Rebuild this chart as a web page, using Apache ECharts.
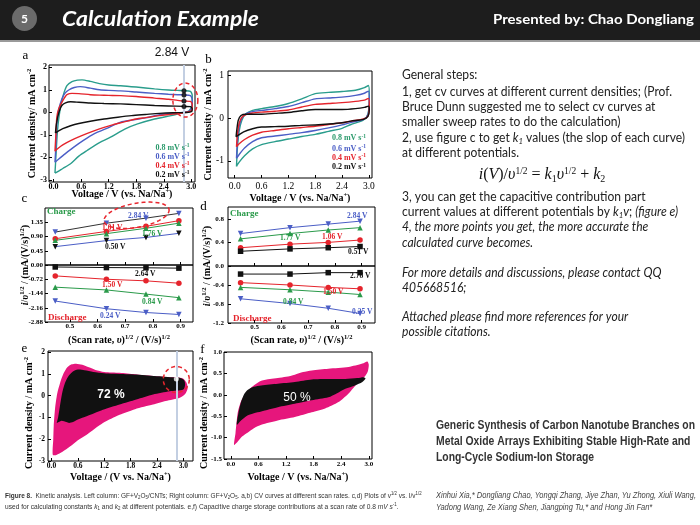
<!DOCTYPE html>
<html>
<head>
<meta charset="utf-8">
<script src="https://cdn.jsdelivr.net/npm/echarts@6/dist/echarts.min.js"></script>
<style>
html,body{margin:0;padding:0;background:#fff;}
#chart{width:700px;height:525px;}
</style>
</head>
<body>
<div id="chart"></div>
<script>
// ======================= DATA =======================
// Panel a: CV loops, GF+V2O5/CNTs  [voltage (V), current density (mA cm-2)]
const cvA_08 = [[0.03,-2.7],[0.05,-2.0],[0.07,-1.26],[0.1,-0.5],[0.15,0.22],[0.21,0.75],[0.29,1.18],[0.4,1.36],[0.52,1.43],[0.62,1.44],[0.8,1.37],[1.0,1.27],[1.2,1.21],[1.46,1.18],[1.8,1.12],[2.2,1.04],[2.5,0.99],[2.7,0.97],[2.84,0.96],[2.98,0.93],[3.02,0.75],[3.01,0.3],[2.95,0.05],[2.8,-0.03],[2.56,-0.15],[2.2,-0.3],[1.83,-0.52],[1.55,-0.75],[1.24,-1.11],[1.0,-1.35],[0.73,-1.7],[0.55,-1.95],[0.37,-2.29],[0.2,-2.5],[0.08,-2.65],[0.03,-2.7]];
const cvA_06 = [[0.03,-2.22],[0.05,-1.5],[0.07,-0.52],[0.11,0.1],[0.18,0.59],[0.25,0.85],[0.33,0.99],[0.45,1.1],[0.58,1.14],[0.8,1.07],[1.0,1.0],[1.2,0.97],[1.46,0.95],[1.8,0.9],[2.2,0.84],[2.5,0.8],[2.7,0.78],[2.84,0.77],[2.98,0.74],[3.02,0.55],[3.01,0.2],[2.93,0.03],[2.7,-0.03],[2.34,-0.1],[2.0,-0.25],[1.7,-0.35],[1.46,-0.44],[1.2,-0.68],[0.88,-0.96],[0.65,-1.25],[0.44,-1.55],[0.25,-1.85],[0.1,-2.1],[0.03,-2.22]];
const cvA_04 = [[0.03,-1.73],[0.05,-1.0],[0.07,-0.22],[0.11,0.15],[0.18,0.44],[0.24,0.65],[0.29,0.78],[0.4,0.84],[0.55,0.83],[0.8,0.78],[1.0,0.76],[1.2,0.75],[1.46,0.74],[1.8,0.7],[2.2,0.63],[2.5,0.58],[2.7,0.53],[2.84,0.5],[2.98,0.48],[3.02,0.35],[3.01,0.1],[2.9,0.0],[2.6,-0.08],[2.3,-0.15],[2.0,-0.24],[1.8,-0.3],[1.5,-0.45],[1.3,-0.55],[1.1,-0.67],[0.85,-0.85],[0.6,-1.05],[0.37,-1.26],[0.2,-1.45],[0.1,-1.6],[0.03,-1.73]];
const cvA_02 = [[0.04,-0.92],[0.06,-0.55],[0.09,-0.22],[0.13,0.08],[0.18,0.3],[0.26,0.42],[0.37,0.47],[0.5,0.45],[0.8,0.41],[1.1,0.39],[1.46,0.37],[1.8,0.34],[2.2,0.3],[2.5,0.28],[2.84,0.26],[2.98,0.25],[3.02,0.16],[3.01,0.04],[2.9,-0.01],[2.6,-0.02],[2.3,-0.05],[2.0,-0.1],[1.7,-0.15],[1.4,-0.22],[1.1,-0.3],[0.8,-0.4],[0.55,-0.5],[0.37,-0.6],[0.2,-0.73],[0.1,-0.84],[0.04,-0.92]];
const markV = 2.84;
const dotsA = [0.96, 0.77, 0.5, 0.26];

// Panel b: CV loops, GF+V2O5
const cvB_08 = [[0.04,-1.13],[0.06,-0.7],[0.1,-0.3],[0.16,-0.05],[0.25,0.1],[0.4,0.18],[0.6,0.22],[0.9,0.27],[1.2,0.34],[1.5,0.45],[1.8,0.57],[2.1,0.6],[2.4,0.62],[2.7,0.65],[2.9,0.71],[2.99,0.76],[3.01,0.5],[2.98,0.1],[2.88,-0.04],[2.6,-0.15],[2.4,-0.24],[2.1,-0.31],[1.8,-0.38],[1.5,-0.43],[1.2,-0.49],[0.9,-0.55],[0.6,-0.62],[0.4,-0.72],[0.22,-0.88],[0.1,-1.03],[0.04,-1.13]];
const cvB_06 = [[0.04,-0.94],[0.06,-0.55],[0.1,-0.2],[0.16,0.0],[0.25,0.1],[0.4,0.15],[0.6,0.18],[0.9,0.22],[1.2,0.27],[1.5,0.36],[1.8,0.45],[2.1,0.47],[2.4,0.49],[2.7,0.53],[2.9,0.58],[2.99,0.63],[3.01,0.4],[2.98,0.08],[2.88,-0.03],[2.6,-0.1],[2.4,-0.16],[2.1,-0.23],[1.8,-0.29],[1.5,-0.34],[1.2,-0.38],[0.9,-0.42],[0.6,-0.46],[0.4,-0.55],[0.22,-0.7],[0.1,-0.85],[0.04,-0.94]];
const cvB_04 = [[0.04,-0.67],[0.06,-0.38],[0.1,-0.12],[0.16,0.02],[0.25,0.08],[0.4,0.12],[0.6,0.14],[0.9,0.16],[1.2,0.19],[1.5,0.26],[1.8,0.32],[2.1,0.34],[2.4,0.36],[2.7,0.39],[2.9,0.42],[2.99,0.46],[3.01,0.3],[2.98,0.05],[2.88,-0.02],[2.6,-0.07],[2.4,-0.11],[2.1,-0.15],[1.8,-0.19],[1.5,-0.22],[1.2,-0.25],[0.9,-0.29],[0.6,-0.33],[0.4,-0.4],[0.22,-0.5],[0.1,-0.6],[0.04,-0.67]];
const cvB_02 = [[0.03,-0.44],[0.05,-0.25],[0.08,-0.05],[0.14,0.06],[0.25,0.09],[0.4,0.09],[0.6,0.09],[0.9,0.11],[1.2,0.13],[1.5,0.17],[1.8,0.2],[2.1,0.2],[2.4,0.2],[2.7,0.22],[2.9,0.25],[2.99,0.28],[3.01,0.2],[2.98,0.04],[2.88,-0.03],[2.6,-0.07],[2.4,-0.11],[2.1,-0.14],[1.8,-0.16],[1.5,-0.17],[1.2,-0.19],[0.9,-0.2],[0.6,-0.21],[0.4,-0.25],[0.2,-0.32],[0.08,-0.4],[0.03,-0.44]];
const rateLabels = ['0.8', '0.6', '0.4', '0.2'];

// Panels c,d: i/v^1/2 vs v^1/2
const sqrtRate = [0.447, 0.632, 0.775, 0.894];
const c_284 = [1.04, 1.32, 1.48, 1.63];
const c_101 = [0.83, 1.06, 1.22, 1.40];
const c_176 = [0.78, 0.99, 1.16, 1.32];
const c_050 = [0.58, 0.77, 0.87, 1.00];
const c_264 = [-0.10, -0.13, -0.14, -0.16];
const c_150 = [-0.55, -0.72, -0.80, -0.92];
const c_084 = [-1.12, -1.26, -1.47, -1.65];
const c_024 = [-1.82, -2.21, -2.40, -2.50];
const d_284 = [0.55, 0.65, 0.71, 0.76];
const d_177 = [0.46, 0.55, 0.61, 0.65];
const d_106 = [0.31, 0.37, 0.40, 0.44];
const d_051 = [0.25, 0.29, 0.31, 0.33];
const d_278 = [-0.17, -0.17, -0.14, -0.14];
const d_150 = [-0.35, -0.40, -0.45, -0.48];
const d_084 = [-0.45, -0.50, -0.55, -0.60];
const d_025 = [-0.69, -0.79, -0.89, -1.00];

// Panels e,f: total CV (outer) and capacitive part (inner)
const eOuter = [[0.03,-2.72],[0.04,-2.0],[0.05,-1.4],[0.08,-0.6],[0.13,0.1],[0.19,0.55],[0.27,1.0],[0.36,1.3],[0.46,1.44],[0.56,1.47],[0.7,1.42],[0.85,1.3],[1.0,1.18],[1.2,1.09],[1.55,1.05],[1.9,0.98],[2.31,0.9],[2.6,0.86],[2.84,0.84],[3.0,0.78],[3.07,0.6],[3.1,0.35],[3.05,0.1],[2.92,-0.1],[2.6,-0.25],[2.31,-0.41],[1.9,-0.62],[1.55,-0.88],[1.17,-1.26],[0.8,-1.8],[0.6,-2.05],[0.42,-2.34],[0.25,-2.58],[0.11,-2.72]];
const eInner = [[0.12,-1.25],[0.15,-1.0],[0.19,-0.5],[0.24,0.1],[0.3,0.55],[0.38,0.88],[0.48,1.1],[0.6,1.2],[0.75,1.17],[0.95,1.09],[1.2,1.03],[1.4,1.0],[1.7,0.98],[1.93,0.97],[2.2,0.93],[2.46,0.89],[2.7,0.85],[2.92,0.82],[3.02,0.7],[3.04,0.5],[3.0,0.28],[2.69,0.2],[2.31,0.05],[1.93,-0.18],[1.55,-0.41],[1.17,-0.65],[0.8,-0.95],[0.6,-1.1],[0.49,-1.21],[0.4,-1.25],[0.34,-1.21],[0.23,-1.15],[0.15,-1.22]];
const eDot = [2.84, 0.77];
const fOuter = [[0.07,-1.17],[0.1,-0.9],[0.15,-0.41],[0.22,-0.15],[0.29,-0.02],[0.4,0.13],[0.51,0.23],[0.66,0.33],[0.85,0.37],[1.02,0.39],[1.2,0.42],[1.39,0.47],[1.57,0.53],[1.76,0.57],[2.12,0.61],[2.56,0.65],[2.86,0.73],[2.97,0.78],[3.0,0.7],[2.98,0.55],[2.93,0.45],[2.82,0.33],[2.71,0.22],[2.55,0.02],[2.34,-0.17],[2.05,-0.32],[1.76,-0.41],[1.39,-0.52],[1.02,-0.6],[0.66,-0.7],[0.5,-0.78],[0.37,-0.88],[0.25,-0.97],[0.15,-1.09]];
const fInner = [[0.13,-0.7],[0.16,-0.45],[0.22,-0.17],[0.29,0.02],[0.37,0.12],[0.5,0.19],[0.66,0.22],[1.02,0.26],[1.39,0.3],[1.76,0.36],[2.12,0.37],[2.49,0.37],[2.75,0.39],[2.89,0.41],[2.93,0.38],[2.86,0.3],[2.7,0.22],[2.49,0.14],[2.3,0.03],[2.12,-0.06],[1.76,-0.13],[1.39,-0.21],[1.02,-0.29],[0.66,-0.39],[0.5,-0.43],[0.37,-0.48],[0.22,-0.6]];

// Tick values
const TICK_V = [0, 0.6, 1.2, 1.8, 2.4, 3.0];
const TICK_A_Y = [-3, -2, -1, 0, 1, 2];
const TICK_B_Y = [-1, 0, 1];
const TICK_S = [0.5, 0.6, 0.7, 0.8, 0.9];
const TICK_C_TOP = [0, 0.45, 0.9, 1.35];
const TICK_C_BOT = [-2.88, -2.16, -1.44, -0.72];
const TICK_D_TOP = [0, 0.4, 0.8];
const TICK_D_BOT = [-1.2, -0.8, -0.4];
const TICK_E_Y = [-3, -2, -1, 0, 1, 2];
const TICK_F_Y = [-1.5, -1, -0.5, 0, 0.5, 1];

// ======================= STYLE =======================
const SERIF = '"Liberation Serif","Times New Roman",serif';
const SANS = '"Liberation Sans",Arial,sans-serif';
const TEAL = '#2a9d8c', BLUE = '#4b5ec6', RED = '#e5242c', BLACK = '#111111', GREEN = '#2a9a4a', PINK = '#e6167c', LEG_TEAL = '#2c9a6c';

const AXR = {
  b: { fontFamily: SERIF, fontWeight: 'bold', fontSize: 10, color: '#000', lineHeight: 12 },
  bi: { fontFamily: SERIF, fontWeight: 'bold', fontStyle: 'italic', fontSize: 10, color: '#000', lineHeight: 12 },
  s: { fontFamily: SERIF, fontWeight: 'bold', fontSize: 6.5, color: '#000', lineHeight: 7, verticalAlign: 'top' }
};
const nameV = '{b|Voltage / V (vs. Na/Na}{s|+}{b|)}';
const nameVe = '{b|Voltage / (V vs. Na/Na}{s|+}{b|)}';
const nameJa = '{b|Current density/ mA cm}{s|-2}';
const nameJ = '{b|Current density / mA cm}{s|-2}';
const nameScan = '{b|(Scan rate, }{bi|υ}{b|)}{s|1/2}{b| / (V/s)}{s|1/2}';
const nameIv = '{bi|i}{b|/}{bi|υ}{s|1/2}{b| / (mA/(V/s)}{s|1/2}{b|)}';

function fmt(v, d) { if (Math.abs(v) < 1e-9) v = 0; return v.toFixed(d); }
function mkAxis(gi, min, max, ticks, dec, o) {
  o = o || {};
  const lab = Object.assign({ show: !o.hideLabel, customValues: ticks, formatter: function (v) { return fmt(v, dec); },
    fontFamily: SERIF, fontWeight: 'bold', fontSize: 8, color: '#000', margin: 2 }, o.label || {});
  const ax = { type: 'value', gridIndex: gi, min: min, max: max,
    axisLine: { show: false, onZero: false }, splitLine: { show: false },
    axisTick: { show: true, inside: true, length: 3, customValues: ticks, lineStyle: { color: '#000', width: 1 } },
    axisLabel: lab };
  if (o.name) {
    ax.name = o.name; ax.nameLocation = 'middle'; ax.nameGap = o.nameGap; ax.nameMoveOverlap = false;
    ax.nameTextStyle = { fontFamily: SERIF, fontWeight: 'bold', fontSize: 10, color: '#000', rich: AXR };
  }
  return ax;
}
function gridBox(l, t, w, h) {
  return { left: l, top: t, width: w, height: h, show: true, borderColor: '#000', borderWidth: 1, backgroundColor: 'transparent', containLabel: false, outerBoundsMode: 'none' };
}
function cvLine(gi, data, color) {
  return { type: 'line', xAxisIndex: gi, yAxisIndex: gi, data: data, symbol: 'none', smooth: 0.25, lineStyle: { color: color, width: 1.4 }, z: 3, silent: true };
}
function pts(gi, vals, sym, rot, mColor, lColor) {
  return { type: 'line', xAxisIndex: gi, yAxisIndex: gi, data: sqrtRate.map(function (x, i) { return [x, vals[i]]; }),
    symbol: sym, symbolRotate: rot, symbolSize: 5.5, showSymbol: true, itemStyle: { color: mColor },
    lineStyle: { color: lColor, width: 1 }, z: 3, silent: true };
}
function poly(gi, ptsArr, fill, z) {
  return { type: 'custom', coordinateSystem: 'cartesian2d', xAxisIndex: gi, yAxisIndex: gi, z: z, silent: true,
    data: [[ptsArr[0][0], ptsArr[0][1]]],
    renderItem: function (params, api) {
      return { type: 'polygon', shape: { points: ptsArr.map(function (p) { return api.coord(p); }), smooth: 0.25 }, style: { fill: fill, stroke: null } };
    } };
}
function vMark(gi) {
  return { type: 'line', xAxisIndex: gi, yAxisIndex: gi, data: [], z: 1, silent: true,
    markLine: { silent: true, symbol: ['none', 'none'], label: { show: false }, lineStyle: { color: '#c3cfe2', width: 2, type: 'solid' }, data: [{ xAxis: markV }] } };
}

const chart = echarts.init(document.getElementById('chart'), null, { renderer: 'canvas' });

const option = {
  animation: false,
  backgroundColor: '#ffffff',
  textStyle: { fontFamily: SERIF },
  grid: [
    gridBox(49, 65, 146, 117),
    gridBox(228, 71, 144, 107),
    gridBox(45, 208, 148, 57),
    gridBox(45, 265, 148, 57),
    gridBox(228, 207, 147, 59),
    gridBox(228, 266, 147, 57),
    gridBox(48, 351, 145, 110),
    gridBox(224, 352, 148, 107)
  ],
  xAxis: [
    mkAxis(0, -0.1, 3.08, TICK_V, 1, { name: nameV, nameGap: 6, label: { margin: 1 } }),
    mkAxis(1, -0.15, 3.07, TICK_V, 1, { name: nameV, nameGap: 14, label: { margin: 3, fontWeight: 'normal', fontSize: 9.5 } }),
    mkAxis(2, 0.41, 0.945, TICK_S, 1, { hideLabel: true }),
    mkAxis(3, 0.41, 0.945, TICK_S, 1, { name: nameScan, nameGap: 12, label: { fontSize: 7, margin: 1 } }),
    mkAxis(4, 0.40, 0.95, TICK_S, 1, { hideLabel: true }),
    mkAxis(5, 0.40, 0.95, TICK_S, 1, { name: nameScan, nameGap: 11, label: { fontSize: 7, margin: 1 } }),
    mkAxis(6, -0.08, 3.22, TICK_V, 1, { name: nameVe, nameGap: 10, label: { fontSize: 7.5, margin: 1 } }),
    mkAxis(7, -0.15, 3.07, TICK_V, 1, { name: nameV, nameGap: 12, label: { fontSize: 7, margin: 2 } })
  ],
  yAxis: [
    mkAxis(0, -3.1, 2.1, TICK_A_Y, 0, { name: nameJa, nameGap: 11, label: { margin: 2 } }),
    mkAxis(1, -1.4, 1.1, TICK_B_Y, 0, { name: nameJ, nameGap: 14, label: { margin: 4, fontWeight: 'normal', fontSize: 9.5 } }),
    mkAxis(2, 0, 1.8, TICK_C_TOP, 2, { label: { fontSize: 7, margin: 2 } }),
    mkAxis(3, -2.88, 0, TICK_C_BOT, 2, { label: { fontSize: 7, margin: 2 } }),
    mkAxis(4, 0, 1.0, TICK_D_TOP, 1, { label: { fontSize: 7, margin: 4 } }),
    mkAxis(5, -1.2, 0, TICK_D_BOT, 1, { label: { fontSize: 7, margin: 4 } }),
    mkAxis(6, -3, 2.05, TICK_E_Y, 0, { label: { fontSize: 7.5, margin: 3 } }),
    mkAxis(7, -1.5, 1.0, TICK_F_Y, 1, { label: { fontSize: 7, margin: 2 } })
  ],
  series: [
    vMark(0),
    cvLine(0, cvA_08, TEAL), cvLine(0, cvA_06, BLUE), cvLine(0, cvA_04, RED), cvLine(0, cvA_02, BLACK),
    { type: 'scatter', xAxisIndex: 0, yAxisIndex: 0, data: dotsA.map(function (y) { return [markV, y]; }), symbolSize: 5, itemStyle: { color: '#000' }, z: 5, silent: true },
    cvLine(1, cvB_08, TEAL), cvLine(1, cvB_06, BLUE), cvLine(1, cvB_04, RED), cvLine(1, cvB_02, BLACK),
    pts(2, c_284, 'triangle', 180, BLUE, '#333333'),
    pts(2, c_101, 'circle', 0, RED, RED),
    pts(2, c_176, 'triangle', 0, GREEN, GREEN),
    pts(2, c_050, 'triangle', 180, BLACK, BLUE),
    pts(3, c_264, 'rect', 0, BLACK, BLACK),
    pts(3, c_150, 'circle', 0, RED, RED),
    pts(3, c_084, 'triangle', 0, GREEN, GREEN),
    pts(3, c_024, 'triangle', 180, BLUE, BLUE),
    pts(4, d_284, 'triangle', 180, BLUE, BLUE),
    pts(4, d_177, 'triangle', 0, GREEN, GREEN),
    pts(4, d_106, 'circle', 0, RED, RED),
    pts(4, d_051, 'rect', 0, BLACK, BLACK),
    pts(5, d_278, 'rect', 0, BLACK, BLACK),
    pts(5, d_150, 'circle', 0, RED, RED),
    pts(5, d_084, 'triangle', 0, GREEN, GREEN),
    pts(5, d_025, 'triangle', 180, BLUE, BLUE),
    vMark(6),
    poly(6, eOuter, PINK, 2),
    poly(6, eInner, '#111111', 3),
    { type: 'scatter', xAxisIndex: 6, yAxisIndex: 6, data: [eDot], symbolSize: 5, itemStyle: { color: '#ffffff' }, z: 6, silent: true },
    poly(7, fOuter, PINK, 2),
    poly(7, fInner, '#111111', 3)
  ]
};
chart.setOption(option);

// ======================= ANNOTATION GRAPHICS =======================
const ctx = document.createElement('canvas').getContext('2d');
function measure(str, font) { ctx.font = font; return ctx.measureText(str).width; }
function fit(str, font, target) { const m = measure(str, font); return m > 0 ? target / m : 1; }
function R(family, size, weight, style, color, lh, va) {
  return { fontFamily: family, fontSize: size, fontWeight: weight || 'normal', fontStyle: style || 'normal', fill: color, color: color, lineHeight: lh, verticalAlign: va || 'middle' };
}
function txt(x, y, text, font, fill, align, extra) {
  const e = { type: 'text', x: x, y: y, z: 100, silent: true,
    style: { text: text, font: font, fill: fill, align: align || 'left', verticalAlign: 'middle', textAlign: align || 'left', textVerticalAlign: 'middle' } };
  if (extra) {
    if (extra.rich) e.style.rich = extra.rich;
    if (extra.scaleX) e.scaleX = extra.scaleX;
    if (extra.rotation) e.rotation = extra.rotation;
  }
  return e;
}
function legendTxt(x, y, r, color) {
  return txt(x, y, '{t|' + r + ' mV s}{s|-1}', 'bold 8px ' + SERIF, color, 'center',
    { rich: { t: R(SERIF, 8, 'bold', 'normal', color, 10), s: R(SERIF, 5.5, 'bold', 'normal', color, 6, 'top') } });
}
function lab(x, y, t, color, size) { return txt(x, y, t, 'bold ' + (size || 7.5) + 'px ' + SERIF, color, 'left'); }
function ellipse(cx, cy, rx, ry, rot) {
  const p = [];
  for (let k = 0; k < 64; k++) {
    const t = k / 64 * 2 * Math.PI, ex = rx * Math.cos(t), ey = ry * Math.sin(t);
    p.push([cx + ex * Math.cos(rot) - ey * Math.sin(rot), cy + ex * Math.sin(rot) + ey * Math.cos(rot)]);
  }
  return { type: 'polygon', z: 110, silent: true, shape: { points: p }, style: { fill: null, stroke: '#e8262e', lineWidth: 1.5, lineDash: [4, 3] } };
}
function px(i, v) { return chart.convertToPixel({ xAxisIndex: i, yAxisIndex: i }, v); }

const G = [];
// header
G.push({ type: 'rect', z: 90, silent: true, shape: { x: 0, y: 0, width: 700, height: 40 }, style: { fill: '#1d1d1d' } });
G.push({ type: 'rect', z: 90, silent: true, shape: { x: 0, y: 40, width: 700, height: 2 }, style: { fill: '#9a9a9a' } });
G.push({ type: 'circle', z: 95, silent: true, shape: { cx: 24.5, cy: 18.5, r: 12.5 }, style: { fill: '#6b6b6b' } });
G.push(txt(24.5, 19, '5', 'bold 12px Lato', '#ffffff', 'center'));
const fTitle = 'italic bold 21px Lato';
G.push(txt(62, 19, 'Calculation Example', fTitle, '#ffffff', 'left', { scaleX: fit('Calculation Example', fTitle, 197) }));
const fPres = 'bold 14px Lato';
G.push(txt(493, 19, 'Presented by: Chao Dongliang', fPres, '#ffffff', 'left', { scaleX: fit('Presented by: Chao Dongliang', fPres, 201) }));

// panel letters
const fLet = '13px ' + SERIF;
G.push(txt(25.5, 56, 'a', fLet, '#000', 'center'));
G.push(txt(208.5, 60, 'b', fLet, '#000', 'center'));
G.push(txt(24.5, 199, 'c', fLet, '#000', 'center'));
G.push(txt(203.5, 207, 'd', fLet, '#000', 'center'));
G.push(txt(24.5, 349, 'e', fLet, '#000', 'center'));
G.push(txt(202.5, 350, 'f', fLet, '#000', 'center'));
G.push(txt(172, 53, '2.84 V', '12px ' + SANS, '#111', 'center'));

// legends a, b
const legCols = [LEG_TEAL, BLUE, RED, BLACK];
[147.7, 156.7, 166, 175].forEach(function (y, i) { G.push(legendTxt(172.5, y, rateLabels[i], legCols[i])); });
[138.3, 148.5, 158, 167.3].forEach(function (y, i) { G.push(legendTxt(349, y, rateLabels[i], legCols[i])); });

// panel c labels
G.push(lab(47, 212, 'Charge', GREEN, 9));
G.push(lab(128, 215.7, '2.84 V', BLUE));
G.push(lab(102, 228, '1.01 V', RED));
G.push(lab(142, 234, '1.76 V', GREEN));
G.push(lab(105, 247, '0.50 V', BLACK));
G.push(lab(135, 274, '2.64 V', BLACK));
G.push(lab(102, 285, '1.50 V', RED));
G.push(lab(142, 302, '0.84 V', GREEN));
G.push(lab(100, 316, '0.24 V', BLUE));
G.push(lab(48, 318, 'Discharge', RED, 9));
// panel d labels
G.push(lab(230, 214, 'Charge', GREEN, 9));
G.push(lab(347, 216, '2.84 V', BLUE));
G.push(lab(280, 238, '1.77 V', GREEN));
G.push(lab(322, 237, '1.06 V', RED));
G.push(lab(348, 252, '0.51 V', BLACK));
G.push(lab(350, 276, '2.78 V', BLACK));
G.push(lab(323, 292, '1.50 V', RED));
G.push(lab(283, 302, '0.84 V', GREEN));
G.push(lab(352, 312, '0.25 V', BLUE));
G.push(lab(233, 319, 'Discharge', RED, 9));
// rotated y names (c/d span both halves; e/f sit low as in the figure)
const ivRich = { b: R(SERIF, 10, 'bold', 'normal', '#000', 12), bi: R(SERIF, 10, 'bold', 'italic', '#000', 12), s: R(SERIF, 6.5, 'bold', 'normal', '#000', 7, 'top') };
G.push(txt(25, 265, nameIv, 'bold 10px ' + SERIF, '#000', 'center', { rich: ivRich, rotation: Math.PI / 2 }));
G.push(txt(207, 266, nameIv, 'bold 10px ' + SERIF, '#000', 'center', { rich: ivRich, rotation: Math.PI / 2 }));
G.push(txt(29, 413, nameJ, 'bold 10px ' + SERIF, '#000', 'center', { rich: ivRich, rotation: Math.PI / 2 }));
G.push(txt(204, 413, nameJ, 'bold 10px ' + SERIF, '#000', 'center', { rich: ivRich, rotation: Math.PI / 2 }));

// e, f percentages
G.push(txt(111, 395, '72 %', 'bold 12px ' + SANS, '#ffffff', 'center'));
G.push(txt(297, 398, '50 %', '12px ' + SANS, '#ffffff', 'center'));

// ellipses positioned from data coordinates
const pa = px(0, [2.87, 0.54]); G.push(ellipse(pa[0], pa[1], 12.5, 17, 0));
const pc = px(2, [0.741, 1.57]); G.push(ellipse(pc[0], pc[1], 33, 12, -0.18));
const pe = px(6, [2.84, 0.74]); G.push(ellipse(pe[0], pe[1], 13, 13, 0));

// right text block
const FB = 'Lato';
const rbFont = '12.5px ' + FB;
const rbScale = fit('2, use figure c to get k1 values (the slop of each curve)', rbFont, 286);
const rbRich = {
  n: R(FB, 12.5, 'normal', 'normal', '#222', 15),
  i: R(FB, 12.5, 'normal', 'italic', '#222', 15),
  sb: R(FB, 8, 'normal', 'italic', '#222', 9, 'bottom')
};
const RB = [
  [75, '{n|General steps:}'],
  [91.5, '{n|1, get cv curves at different current densities; (Prof.}'],
  [107, '{n|Bruce Dunn suggested me to select cv curves at}'],
  [122, '{n|smaller sweep rates to do the calculation)}'],
  [137.5, '{n|2, use figure c to get }{i|k}{sb|1}{n| values (the slop of each curve)}'],
  [153, '{n|at different potentials.}'],
  [196.5, '{n|3, you can get the capacitive contribution part}'],
  [211.5, '{n|current values at different potentials by }{i|k}{sb|1}{i|v}{n|; }{i|(figure e)}'],
  [227, '{i|4, the more points you get, the more accurate the}'],
  [242.5, '{i|calculated curve becomes.}'],
  [273, '{i|For more details and discussions, please contact QQ}'],
  [288, '{i|405668516;}'],
  [316.5, '{i|Attached please find more references for your}'],
  [332, '{i|possible citations.}']
];
G.push({ type: 'group', x: 402, y: 0, scaleX: rbScale, z: 100, silent: true,
  children: RB.map(function (r) { return txt(0, r[0], r[1], rbFont, '#222', 'left', { rich: rbRich }); }) });
// equation
const eqRich = {
  i: R(SERIF, 16, 'normal', 'italic', '#111', 18),
  n: R(SERIF, 16, 'normal', 'normal', '#111', 18),
  p: R(SERIF, 9.5, 'normal', 'normal', '#111', 10, 'top'),
  d: R(SERIF, 10, 'normal', 'normal', '#111', 10, 'bottom')
};
G.push(txt(542, 175, '{i|i}{n|(}{i|V}{n|)/}{i|υ}{p|1/2}{n| = }{i|k}{d|1}{i|υ}{p|1/2}{n| + }{i|k}{d|2}', '16px ' + SERIF, '#111', 'center', { rich: eqRich }));

// caption (bottom-left)
const capFont = '7.5px ' + SANS;
const capRich = {
  f: R(SANS, 7.5, 'normal', 'normal', '#333', 9),
  fb: R(SANS, 7.5, 'bold', 'normal', '#333', 9),
  fi: R(SANS, 7.5, 'normal', 'italic', '#333', 9),
  up: R(SANS, 5, 'normal', 'normal', '#333', 5, 'top'),
  dn: R(SANS, 5, 'normal', 'normal', '#333', 5, 'bottom')
};
const cap1 = '{fb|Figure 8.}{f|  Kinetic analysis. Left column: GF+V}{dn|2}{f|O}{dn|5}{f|/CNTs; Right column: GF+V}{dn|2}{f|O}{dn|5}{f|. a,b) CV curves at different scan rates. c,d) Plots of v}{up|1/2}{f| vs. I/v}{up|1/2}';
const cap1p = 'Figure 8.  Kinetic analysis. Left column: GF+V2O5/CNTs; Right column: GF+V2O5. a,b) CV curves at different scan rates. c,d) Plots of v1/2 vs. I/v1/2';
const cap2 = '{f|used for calculating constants }{fi|k}{dn|1}{f| and }{fi|k}{dn|2}{f| at different potentials. e,f) Capacitive charge storage contributions at a scan rate of 0.8 }{fi|mV s}{up|-1}{f|.}';
const cap2p = 'used for calculating constants k1 and k2 at different potentials. e,f) Capacitive charge storage contributions at a scan rate of 0.8 mV s-1.';
G.push(txt(5, 495.5, cap1, capFont, '#333', 'left', { rich: capRich, scaleX: fit(cap1p, capFont, 426) }));
G.push(txt(5, 506.5, cap2, capFont, '#333', 'left', { rich: capRich, scaleX: fit(cap2p, capFont, 398) }));

// paper title and authors (bottom-right)
const ttFont = 'bold 12.5px ' + SANS;
const ttScale = fit('Generic Synthesis of Carbon Nanotube Branches on', ttFont, 259);
G.push(txt(436, 426, 'Generic Synthesis of Carbon Nanotube Branches on', ttFont, '#333', 'left', { scaleX: ttScale }));
G.push(txt(436, 442, 'Metal Oxide Arrays Exhibiting Stable High-Rate and', ttFont, '#333', 'left', { scaleX: ttScale }));
G.push(txt(436, 458, 'Long-Cycle Sodium-Ion Storage', ttFont, '#333', 'left', { scaleX: ttScale }));
const auFont = 'italic 9.5px ' + SANS;
const auScale = fit('Xinhui Xia,* Dongliang Chao, Yongqi Zhang, Jiye Zhan, Yu Zhong, Xiuli Wang,', auFont, 260);
G.push(txt(436, 495.5, 'Xinhui Xia,* Dongliang Chao, Yongqi Zhang, Jiye Zhan, Yu Zhong, Xiuli Wang,', auFont, '#444', 'left', { scaleX: auScale }));
G.push(txt(436, 507.5, 'Yadong Wang, Ze Xiang Shen, Jiangping Tu,* and Hong Jin Fan*', auFont, '#444', 'left', { scaleX: auScale }));

chart.setOption({ graphic: { elements: G } });
</script>
</body>
</html>
